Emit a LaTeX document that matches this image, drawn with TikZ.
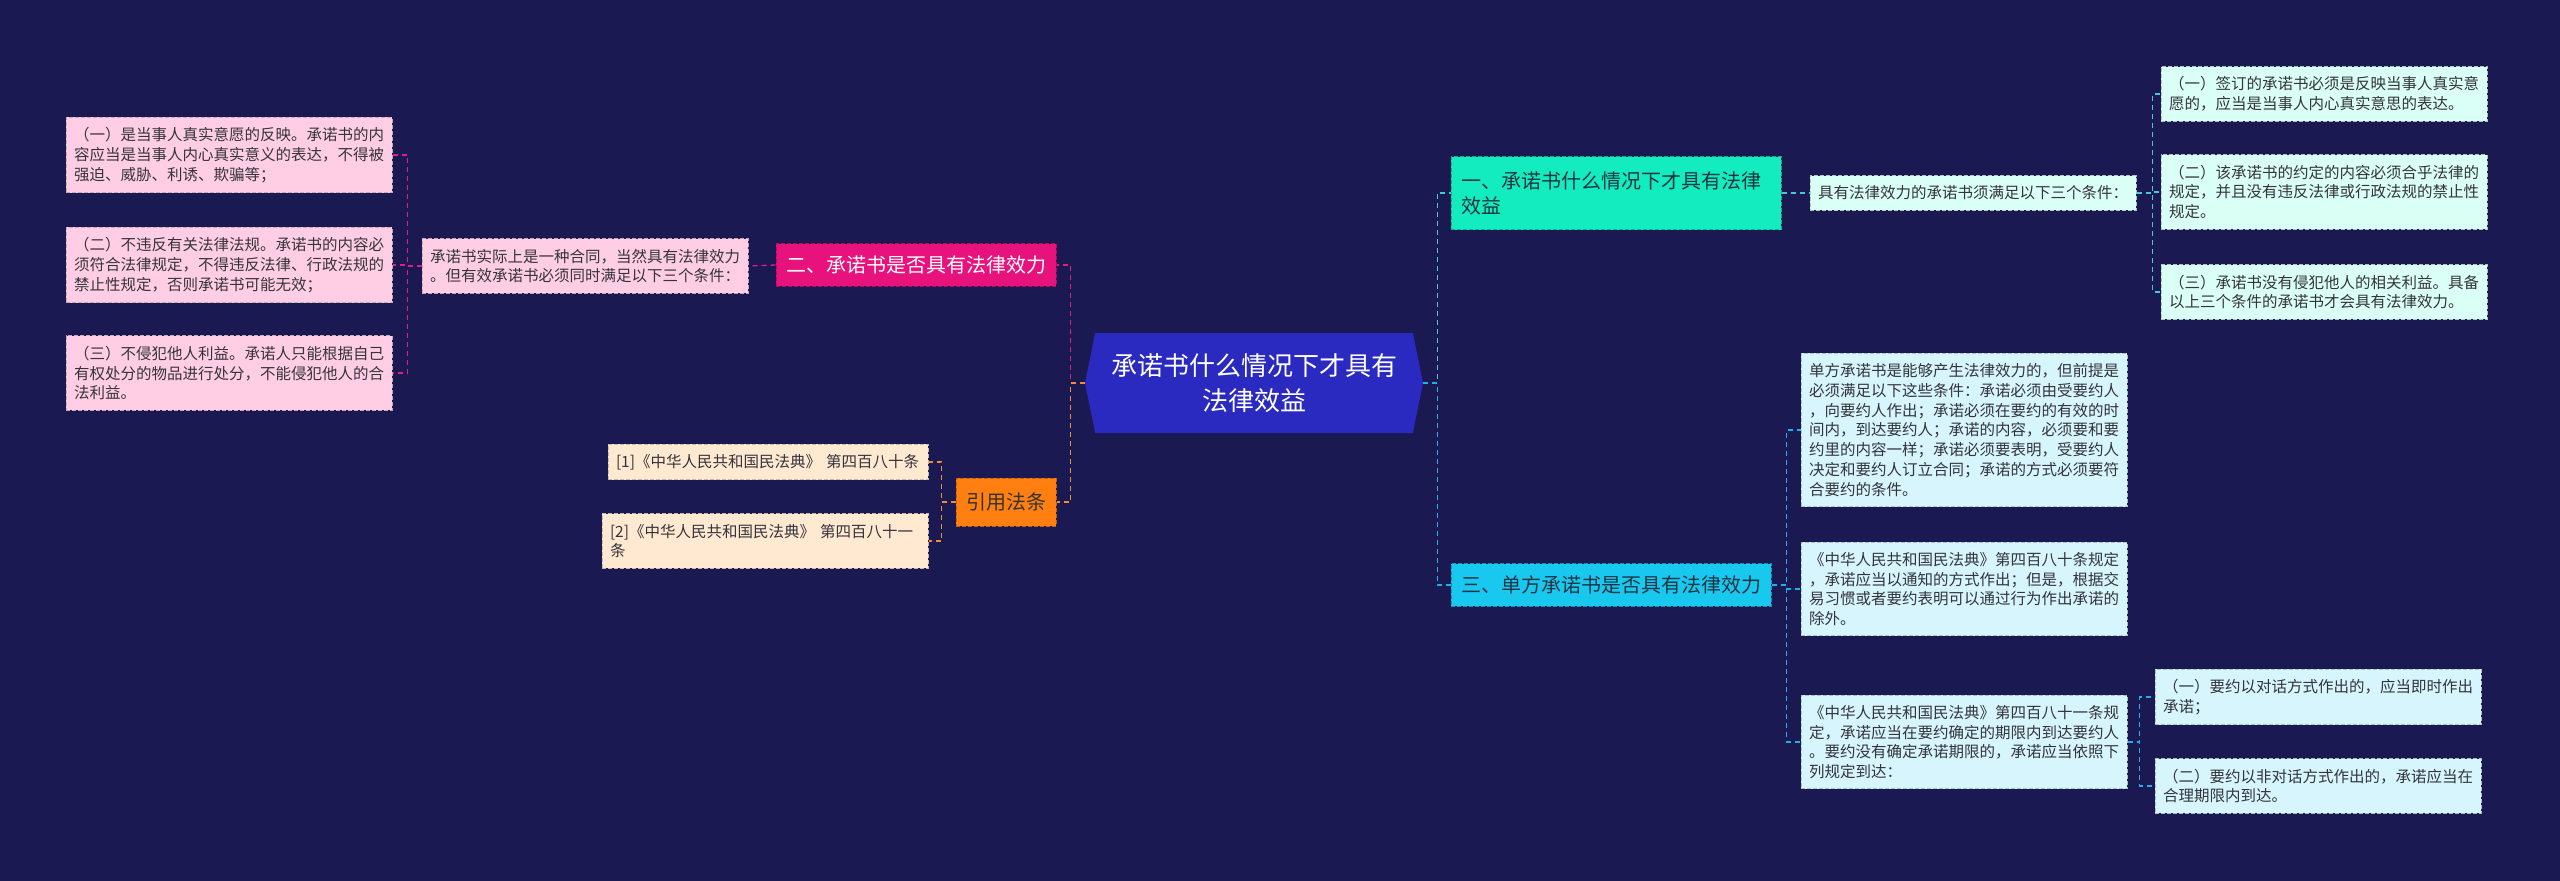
\documentclass[tikz,border=0pt]{standalone}
\usepackage{fontspec}
\setmainfont{Noto Sans CJK SC}
\usetikzlibrary{shapes.symbols}

\definecolor{bgnavy}{RGB}{27,25,82}
\definecolor{rootblue}{RGB}{42,42,192}
\definecolor{tealbox}{RGB}{18,236,190}
\definecolor{cyanbox}{RGB}{24,200,238}
\definecolor{pinkbox}{RGB}{232,18,124}
\definecolor{orangebox}{RGB}{255,128,16}
\definecolor{tealleaf}{RGB}{218,255,245}
\definecolor{cyanleaf}{RGB}{214,245,252}
\definecolor{pinkleaf}{RGB}{255,206,228}
\definecolor{peachleaf}{RGB}{255,233,208}
\definecolor{tealline}{RGB}{70,200,215}
\definecolor{cyanline}{RGB}{30,176,230}
\definecolor{pinkline}{RGB}{226,30,130}
\definecolor{orangeline}{RGB}{240,140,50}
\definecolor{darktext}{RGB}{52,52,60}
\definecolor{branchtext}{RGB}{30,52,66}

\newcommand{\leafw}{310}
\newcommand{\picW}{2560}
\newcommand{\picH}{881}

\begin{document}
\begin{tikzpicture}[x=1pt,y=-1pt,
    link/.style={draw=#1, line width=1.3pt, dash pattern=on 5pt off 4pt},
    branch/.style={fill=#1, draw=#1!75!black, line width=1pt, dash pattern=on 4pt off 2pt,
        font=\fontsize{20}{25}\selectfont, text=branchtext, inner xsep=10pt, inner ysep=12pt, align=left},
    leaf/.style={fill=#1, draw=#1!55!gray, line width=1pt, dash pattern=on 4pt off 2pt,
        font=\fontsize{15.5}{19.8}\selectfont, text=darktext, inner xsep=8pt, inner ysep=10pt,
        text width=\leafw pt, align=left}]

    % Background and size of the page
    \useasboundingbox (0,0) rectangle (\picW,\picH);
    \fill[bgnavy] (0,0) rectangle (\picW,\picH);

    % Central topic
    \node[signal, signal to=west and east, signal pointer angle=157, fill=rootblue,
        minimum width=338pt, minimum height=100pt, text=white, align=center,
        font=\fontsize{26}{35}\selectfont] (root) at (1254,383) {承诺书什么情况下才具有\\法律效益};

    % Right side: first branch
    \node[branch=tealbox, text width=310pt, minimum height=73pt] (b1) at (1616,193) {一、承诺书什么情况下才具有法律\\效益};
    \node[leaf=tealleaf] (b1m) at (1973,193) {具有法律效力的承诺书须满足以下三个条件：};
    \node[leaf=tealleaf] (r1) at (2324,94) {（一）签订的承诺书必须是反映当事人真实意\\愿的，应当是当事人内心真实意思的表达。};
    \node[leaf=tealleaf] (r2) at (2324,192) {（二）该承诺书的约定的内容必须合乎法律的\\规定，并且没有违反法律或行政法规的禁止性\\规定。};
    \node[leaf=tealleaf] (r3) at (2324,292) {（三）承诺书没有侵犯他人的相关利益。具备\\以上三个条件的承诺书才会具有法律效力。};

    % Right side: third branch
    \node[branch=cyanbox] (b3) at (1611,585) {三、单方承诺书是否具有法律效力};
    \node[leaf=cyanleaf] (u1) at (1964,430) {单方承诺书是能够产生法律效力的，但前提是\\必须满足以下这些条件：承诺必须由受要约人\\，向要约人作出；承诺必须在要约的有效的时\\间内，到达要约人；承诺的内容，必须要和要\\约里的内容一样；承诺必须要表明，受要约人\\决定和要约人订立合同；承诺的方式必须要符\\合要约的条件。};
    \node[leaf=cyanleaf] (u2) at (1964,589) {《中华人民共和国民法典》第四百八十条规定\\，承诺应当以通知的方式作出；但是，根据交\\易习惯或者要约表明可以通过行为作出承诺的\\除外。};
    \node[leaf=cyanleaf] (u3) at (1964,742) {《中华人民共和国民法典》第四百八十一条规\\定，承诺应当在要约确定的期限内到达要约人\\。要约没有确定承诺期限的，承诺应当依照下\\列规定到达：};
    \node[leaf=cyanleaf] (u3a) at (2318,697) {（一）要约以对话方式作出的，应当即时作出\\承诺；};
    \node[leaf=cyanleaf] (u3b) at (2318,786) {（二）要约以非对话方式作出的，承诺应当在\\合理期限内到达。};

    % Left side: second branch
    \node[branch=pinkbox, text=white] (b2) at (916,265) {二、承诺书是否具有法律效力};
    \node[leaf=pinkleaf] (b2m) at (585,266) {承诺书实际上是一种合同，当然具有法律效力\\。但有效承诺书必须同时满足以下三个条件：};
    \node[leaf=pinkleaf] (l1) at (229,155) {（一）是当事人真实意愿的反映。承诺书的内\\容应当是当事人内心真实意义的表达，不得被\\强迫、威胁、利诱、欺骗等；};
    \node[leaf=pinkleaf] (l2) at (229,265) {（二）不违反有关法律法规。承诺书的内容必\\须符合法律规定，不得违反法律、行政法规的\\禁止性规定，否则承诺书可能无效；};
    \node[leaf=pinkleaf] (l3) at (229,373) {（三）不侵犯他人利益。承诺人只能根据自己\\有权处分的物品进行处分，不能侵犯他人的合\\法利益。};

    % Left side: cited articles
    \node[branch=orangebox, text=black!80, minimum height=48pt] (b4) at (1006,502) {引用法条};
    \node[leaf=peachleaf, text width=304pt] (c1) at (768,462) {[1]《中华人民共和国民法典》 第四百八十条};
    \node[leaf=peachleaf] (c2) at (765,541) {[2]《中华人民共和国民法典》 第四百八十一\\条};

    % Connectors from the centre
    \draw[link=tealline] (root.east) -- ++(14,0) |- (b1.west);
    \draw[link=cyanline] (root.east) -- ++(14,0) |- (b3.west);
    \draw[link=pinkline] (root.west) -- ++(-14,0) |- (b2.east);
    \draw[link=orangeline] (root.west) -- ++(-14,0) |- (b4.east);

    % Connectors of the branches
    \draw[link=tealline] (b1.east) -- (b1m.west);
    \draw[link=tealline] (b1m.east) -- ++(16,0) |- (r1.west);
    \draw[link=tealline] (b1m.east) -- ++(16,0) |- (r2.west);
    \draw[link=tealline] (b1m.east) -- ++(16,0) |- (r3.west);

    \draw[link=cyanline] (b3.east) -- ++(15,0) |- (u1.west);
    \draw[link=cyanline] (b3.east) -- ++(15,0) |- (u2.west);
    \draw[link=cyanline] (b3.east) -- ++(15,0) |- (u3.west);
    \draw[link=cyanline] (u3.east) -- ++(12,0) |- (u3a.west);
    \draw[link=cyanline] (u3.east) -- ++(12,0) |- (u3b.west);

    \draw[link=pinkline] (b2.west) -- (b2m.east);
    \draw[link=pinkline] (b2m.west) -- ++(-14,0) |- (l1.east);
    \draw[link=pinkline] (b2m.west) -- ++(-14,0) |- (l2.east);
    \draw[link=pinkline] (b2m.west) -- ++(-14,0) |- (l3.east);

    \draw[link=orangeline] (b4.west) -- ++(-14,0) |- (c1.east);
    \draw[link=orangeline] (b4.west) -- ++(-14,0) |- (c2.east);
\end{tikzpicture}
\end{document}
